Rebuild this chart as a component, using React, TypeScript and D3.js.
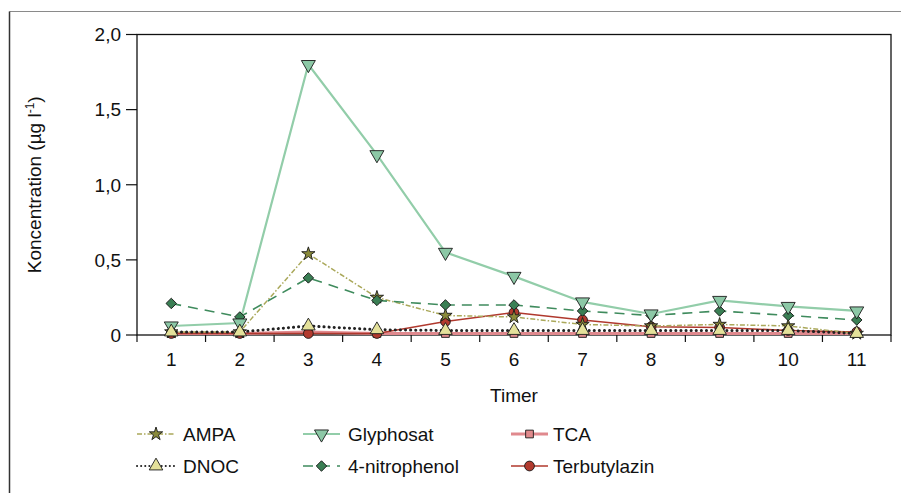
import React from "react";
import * as d3 from "d3";

const categories = ["1", "2", "3", "4", "5", "6", "7", "8", "9", "10", "11"];
const yTicks = [0, 0.5, 1.0, 1.5, 2.0];
const yTickLabels = ["0", "0,5", "1,0", "1,5", "2,0"];

const ampa = [0.02, 0.02, 0.54, 0.25, 0.13, 0.12, 0.07, 0.06, 0.07, 0.06, 0.01];
const glyphosat = [0.06, 0.08, 1.8, 1.2, 0.55, 0.39, 0.22, 0.14, 0.23, 0.19, 0.16];
const tca = [0.01, 0.01, 0.02, 0.01, 0.01, 0.01, 0.01, 0.01, 0.01, 0.01, 0.01];
const dnoc = [0.02, 0.02, 0.06, 0.035, 0.03, 0.03, 0.03, 0.03, 0.03, 0.03, 0.01];
const nitrophenol = [0.21, 0.12, 0.38, 0.23, 0.2, 0.2, 0.16, 0.13, 0.16, 0.13, 0.1];
const terbutylazin = [0.01, 0.01, 0.01, 0.01, 0.09, 0.15, 0.1, 0.055, 0.05, 0.03, 0.02];

type Marker = "star" | "triDown" | "square" | "triUp" | "diamond" | "circle";
interface Series {
  name: string;
  values: number[];
  stroke: string;
  width: number;
  dash?: string;
  cap?: "round" | "butt";
  marker: Marker;
  fill: string;
}

const series: Series[] = [
  { name: "AMPA", values: ampa, stroke: "#aaa85a", width: 1.5, dash: "5,2,1.5,2", marker: "star", fill: "#8a8a3a" },
  { name: "Glyphosat", values: glyphosat, stroke: "#92cda9", width: 2.2, marker: "triDown", fill: "#8cc8a6" },
  { name: "TCA", values: tca, stroke: "#e0898e", width: 3, marker: "square", fill: "#e08a8c" },
  { name: "DNOC", values: dnoc, stroke: "#222222", width: 3, dash: "0.1,5", cap: "round", marker: "triUp", fill: "#e4e19a" },
  { name: "4-nitrophenol", values: nitrophenol, stroke: "#3f8b5d", width: 1.6, dash: "10,7", marker: "diamond", fill: "#3a7f54" },
  { name: "Terbutylazin", values: terbutylazin, stroke: "#b0382d", width: 1.6, marker: "circle", fill: "#b23a2e" },
];

// draw order of the lines/markers on the plot
const drawOrder = ["TCA", "Terbutylazin", "AMPA", "4-nitrophenol", "Glyphosat", "DNOC"];

const W = 901;
const H = 493;
const plot = { left: 137, right: 891, top: 34.5, bottom: 335 };
const FONT = "'Liberation Sans', Arial, sans-serif";

const x = d3.scaleBand<string>().domain(categories).range([plot.left, plot.right]);
const y = d3.scaleLinear().domain([0, 2]).range([plot.bottom, plot.top]);

function markerPath(m: Marker): { d: string; rotate: number } {
  switch (m) {
    case "star":
      return { d: d3.symbol(d3.symbolStar, 55)()!, rotate: 0 };
    case "triDown":
      return { d: d3.symbol(d3.symbolTriangle, 85)()!, rotate: 180 };
    case "triUp":
      return { d: d3.symbol(d3.symbolTriangle, 80)()!, rotate: 0 };
    case "square":
      return { d: d3.symbol(d3.symbolSquare, 60)()!, rotate: 0 };
    case "diamond":
      return { d: d3.symbol(d3.symbolSquare, 55)()!, rotate: 45 };
    case "circle":
    default:
      return { d: d3.symbol(d3.symbolCircle, 75)()!, rotate: 0 };
  }
}

function MarkerShape({ s, cx, cy }: { s: Series; cx: number; cy: number }) {
  const { d, rotate } = markerPath(s.marker);
  return (
    <path
      d={d}
      transform={`translate(${cx},${cy}) rotate(${rotate})`}
      fill={s.fill}
      stroke="#1a1a1a"
      strokeWidth={0.9}
    />
  );
}

export default function App() {
  const line = d3
    .line<number>()
    .x((_, i) => x(categories[i])! + x.bandwidth() / 2)
    .y((v) => y(v));

  const boundaries = d3.range(categories.length + 1).map((i) => plot.left + i * x.step());
  const ordered = drawOrder.map((n) => series.find((s) => s.name === n)!);

  const legendCols = [
    { x0: 137, x1: 175, tx: 183 },
    { x0: 303, x1: 340, tx: 348 },
    { x0: 511, x1: 548, tx: 553 },
  ];
  const legendRows = [434, 466];

  return (
    <svg
      width={W}
      height={H}
      style={{ position: "absolute", left: 0, top: 0, background: "#fff" }}
      fontFamily={FONT}
    >
      <rect x={0} y={0} width={W} height={H} fill="#fff" />
      {/* outer frame */}
      <line x1={9.5} y1={11.5} x2={W} y2={11.5} stroke="#8a8a8a" strokeWidth={1.2} />
      <line x1={9.5} y1={11.5} x2={9.5} y2={H} stroke="#333" strokeWidth={1.5} />

      {/* plot box */}
      <rect
        x={plot.left}
        y={plot.top}
        width={plot.right - plot.left}
        height={plot.bottom - plot.top}
        fill="none"
        stroke="#111"
        strokeWidth={1.3}
      />

      {/* y axis */}
      {yTicks.map((t, i) => (
        <g key={t}>
          <line x1={plot.left - 11} x2={plot.left} y1={y(t)} y2={y(t)} stroke="#111" strokeWidth={1.2} />
          <text x={plot.left - 16} y={y(t)} dy="0.36em" textAnchor="end" fontSize={19} fill="#111">
            {yTickLabels[i]}
          </text>
        </g>
      ))}

      {/* x axis */}
      {boundaries.map((bx, i) => (
        <line key={i} x1={bx} x2={bx} y1={plot.bottom} y2={plot.bottom + 7} stroke="#111" strokeWidth={1.2} />
      ))}
      {categories.map((c) => (
        <text key={c} x={x(c)! + x.bandwidth() / 2} y={366} textAnchor="middle" fontSize={19} fill="#111">
          {c}
        </text>
      ))}

      <text x={(plot.left + plot.right) / 2} y={402} textAnchor="middle" fontSize={19} fill="#111">
        Timer
      </text>
      <text
        transform={`translate(41,${(plot.top + plot.bottom) / 2}) rotate(-90)`}
        textAnchor="middle"
        fontSize={19}
        fill="#111"
      >
        Koncentration (µg l
        <tspan baselineShift="super" fontSize={12}>
          -1
        </tspan>
        )
      </text>

      {/* series lines */}
      {ordered.map((s) => (
        <path
          key={s.name + "-line"}
          d={line(s.values)!}
          fill="none"
          stroke={s.stroke}
          strokeWidth={s.width}
          strokeDasharray={s.dash}
          strokeLinecap={s.cap ?? "butt"}
        />
      ))}
      {/* series markers */}
      {ordered.map((s) => (
        <g key={s.name + "-markers"}>
          {s.values.map((v, i) => (
            <MarkerShape key={i} s={s} cx={x(categories[i])! + x.bandwidth() / 2} cy={y(v)} />
          ))}
        </g>
      ))}

      {/* legend */}
      {series.map((s, i) => {
        const col = legendCols[i % 3];
        const ry = legendRows[Math.floor(i / 3)];
        return (
          <g key={s.name + "-legend"}>
            <line
              x1={col.x0}
              x2={col.x1}
              y1={ry}
              y2={ry}
              stroke={s.stroke}
              strokeWidth={s.name === "DNOC" ? 2 : s.width}
              strokeDasharray={s.name === "DNOC" ? "0.1,4" : s.dash}
              strokeLinecap={s.cap ?? "butt"}
            />
            <MarkerShape s={s} cx={(col.x0 + col.x1) / 2} cy={ry} />
            <text x={col.tx} y={ry} dy="0.36em" fontSize={19} fill="#111">
              {s.name}
            </text>
          </g>
        );
      })}
    </svg>
  );
}
